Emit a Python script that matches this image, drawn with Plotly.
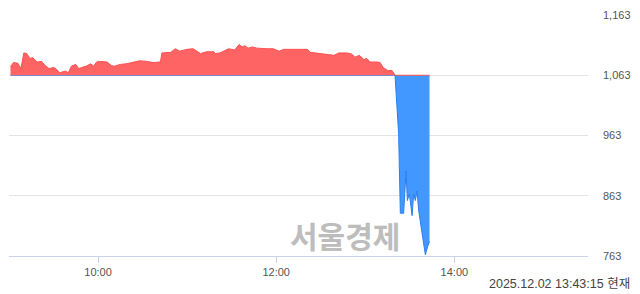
import plotly.graph_objects as go

DAY = "2025-12-02 "
BASE = 1063

times = [
    "09:01", "09:03", "09:06", "09:08", "09:10", "09:12", "09:14", "09:16", "09:19", "09:22",
    "09:24", "09:27", "09:30", "09:32", "09:34", "09:38", "09:40", "09:42", "09:45", "09:47",
    "09:49", "09:52", "09:55", "09:57", "09:59", "10:01", "10:06", "10:09", "10:11", "10:15",
    "10:19", "10:24", "10:28", "10:33", "10:37", "10:42", "10:43", "10:49", "10:52", "10:55",
    "11:00", "11:04", "11:09", "11:13", "11:18", "11:19", "11:22", "11:28", "11:32", "11:35",
    "11:37", "11:39", "11:41", "11:44", "11:47", "11:54", "11:58", "12:02", "12:05", "12:14",
    "12:21", "12:23", "12:30", "12:36", "12:39", "12:42", "12:48", "12:51", "12:53", "12:56",
    "12:59", "13:01", "13:03", "13:08", "13:10", "13:12", "13:15", "13:18", "13:19", "13:20",
    "13:22:27", "13:23:36", "13:25:49", "13:27:26", "13:28:19", "13:29:40", "13:30:49",
    "13:31:29", "13:32:34", "13:33:42", "13:34:51", "13:35:56", "13:38:13", "13:40:27",
    "13:42:00", "13:43:15",
]
prices = [
    1077, 1084, 1083, 1074, 1100, 1099, 1091, 1092, 1085, 1086,
    1080, 1074, 1076, 1073, 1067, 1070, 1067, 1078, 1081, 1074,
    1076, 1078, 1082, 1078, 1085, 1086, 1085, 1079, 1078, 1081,
    1082, 1085, 1087, 1086, 1084, 1085, 1100, 1101, 1107, 1103,
    1106, 1107, 1099, 1102, 1102, 1099, 1100, 1107, 1105, 1114,
    1110, 1112, 1108, 1110, 1108, 1107, 1107, 1103, 1106, 1106,
    1106, 1101, 1099, 1098, 1096, 1100, 1100, 1098, 1093, 1096,
    1089, 1091, 1085, 1085, 1084, 1076, 1071, 1071, 1066, 1063,
    966, 834, 834, 904, 855, 866, 844,
    830, 866, 855, 871, 839, 801, 765,
    779, 787,
]
y_ticks = [763, 863, 963, 1063, 1163]
x_tick_labels = ["10:00", "12:00", "14:00"]
stamp = "2025.12.02 13:43:15 현재"
watermark = "서울경제"

xs = [DAY + t for t in times]
upper = [max(p, BASE) for p in prices]
lower = [min(p, BASE) for p in prices]
base_line = [BASE] * len(prices)

fig = go.Figure()
fig.add_trace(go.Scatter(x=xs, y=base_line, mode="lines", line=dict(width=0), hoverinfo="skip", showlegend=False))
fig.add_trace(go.Scatter(x=xs, y=lower, mode="lines", fill="tonexty", fillcolor="#4398ff",
                         line=dict(color="#2a7ff0", width=1), showlegend=False))
fig.add_trace(go.Scatter(x=xs, y=base_line, mode="lines", line=dict(width=0), hoverinfo="skip", showlegend=False))
fig.add_trace(go.Scatter(x=xs, y=upper, mode="lines", fill="tonexty", fillcolor="#ff6464",
                         line=dict(color="#ff5050", width=1), showlegend=False))

fig.update_layout(
    width=640, height=294,
    margin=dict(l=9, r=52, t=10, b=38),
    paper_bgcolor="white", plot_bgcolor="white",
    font=dict(family="Liberation Sans, Arial, sans-serif", size=11, color="#555555"),
    xaxis=dict(
        type="date",
        range=[DAY + "09:00", DAY + "15:30"],
        tickvals=[DAY + t for t in x_tick_labels],
        ticktext=x_tick_labels,
        showgrid=False, zeroline=False,
        showline=True, linecolor="#c9d3e8", linewidth=1,
        ticks="outside", ticklen=6, tickcolor="#c9d3e8",
        tickfont=dict(size=11, color="#555555"),
    ),
    yaxis=dict(
        side="right",
        range=[763, 1163],
        tickvals=y_ticks,
        ticktext=[f"{v:,}" for v in y_ticks],
        showgrid=True, gridcolor="#e3e3e3", gridwidth=1,
        zeroline=False, showline=False,
        ticks="", ticklabelstandoff=14,
        tickfont=dict(size=11, color="#555555"),
    ),
    annotations=[
        dict(text=watermark, xref="paper", yref="paper", x=0.5805, y=0.088,
             xanchor="center", yanchor="middle", showarrow=False,
             font=dict(family="Noto Sans CJK KR", size=30, color="#bdbdbd", weight="bold")),
        dict(text=stamp, xref="paper", yref="paper", x=1.076, y=-0.118,
             xanchor="right", yanchor="middle", showarrow=False,
             font=dict(family="Liberation Sans, Noto Sans CJK KR", size=12.5, color="#444444")),
    ],
)

fig.write_html("out.html")
